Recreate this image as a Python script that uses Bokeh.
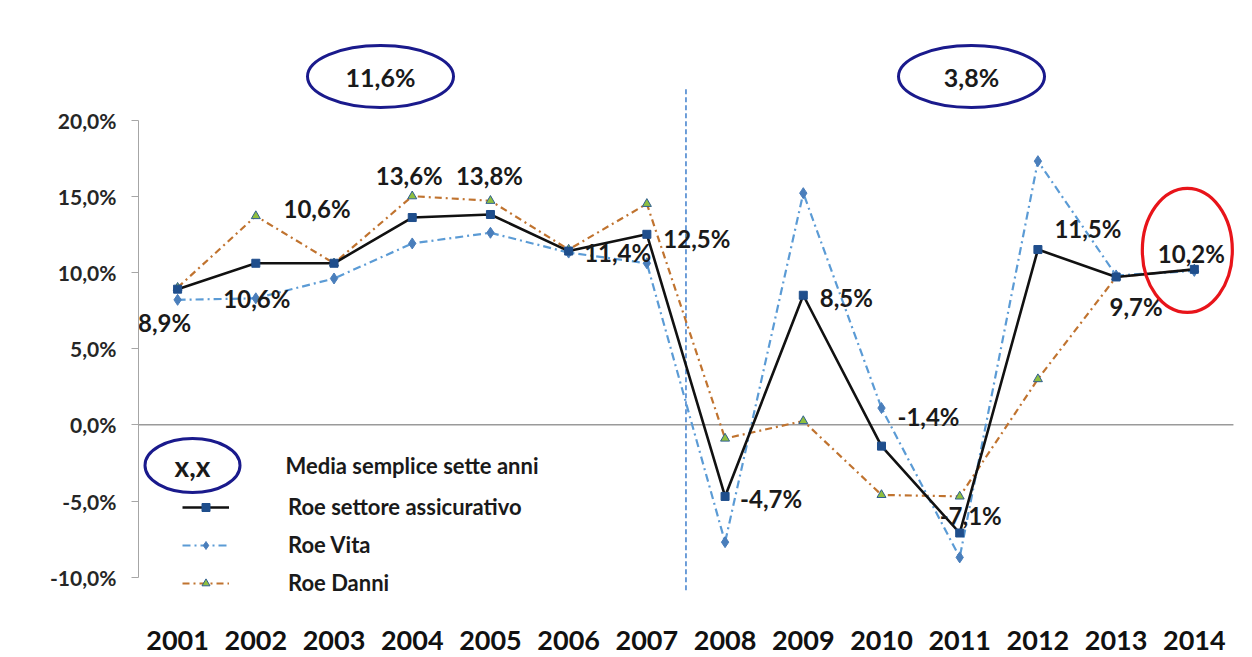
from bokeh.plotting import figure
from bokeh.models import Range1d, FixedTicker, Legend, LegendItem, ColumnDataSource
from bokeh.core.properties import value
from bokeh.embed import file_html
from bokeh.resources import INLINE

# ---------------- data ----------------
years = [2001, 2002, 2003, 2004, 2005, 2006, 2007, 2008, 2009, 2010, 2011, 2012, 2013, 2014]
roe_settore = [8.9, 10.6, 10.6, 13.6, 13.8, 11.4, 12.5, -4.7, 8.5, -1.4, -7.1, 11.5, 9.7, 10.2]
roe_vita = [8.2, 8.3, 9.6, 11.9, 12.6, 11.3, 10.6, -7.7, 15.2, 1.1, -8.7, 17.3, 9.8, 10.1]
roe_danni = [9.0, 13.7, 10.6, 15.0, 14.7, 11.5, 14.5, -0.9, 0.25, -4.6, -4.7, 3.0, 9.7, 10.2]
y_ticks = [-10, -5, 0, 5, 10, 15, 20]
legend_labels = ["Roe settore assicurativo", "Roe Vita", "Roe Danni"]
legend_avg_label = "Media semplice sette anni"

# label offsets from each point (screen px, +y = down)
lab_dx = [-13, 1, -17, -3, -1, 49, 50, 46, 43, 47, 11, 50, 20, -3]
lab_dy = [33, 35, -55, -42, -39, 1, 4, 2, 2, -30, -18, -21, 30, -16]

def pct(v):
    return f"{v:.1f}%".replace(".", ",")

# ---------------- scales (px per unit) ----------------
XS = 78.21      # px per year
YS = 15.24      # px per percentage point
FRAME_W, FRAME_H = 1114, 595
ZERO_PX = 424.3

x_start = years[0] - 0.5
x_end = x_start + FRAME_W / XS
y_top = ZERO_PX / YS
y_bot = -(FRAME_H - ZERO_PX) / YS

p = figure(width=1252, height=657,
           x_range=Range1d(x_start, x_end), y_range=Range1d(y_bot, y_top),
           output_backend="svg", toolbar_location=None,
           min_border_left=138, min_border_right=0, min_border_top=0,
           min_border_bottom=657 - FRAME_H)
p.xgrid.grid_line_color = None
p.ygrid.grid_line_color = None
p.outline_line_color = None
p.background_fill_color = "white"
p.border_fill_color = "white"

# y axis
ya = p.yaxis[0]
ya.ticker = FixedTicker(ticks=y_ticks)
ya.bounds = (y_ticks[0], y_ticks[-1])
ya.major_label_overrides = {t: pct(t) for t in y_ticks}
ya.axis_line_color = "#a6a6a6"
ya.major_tick_line_color = "#a6a6a6"
ya.major_tick_out = 7
ya.major_tick_in = 0
ya.minor_tick_line_color = None
ya.major_label_standoff = 15
ya.major_label_text_font = "Lato"
ya.major_label_text_font_style = "bold"
ya.major_label_text_font_size = "21px"
ya.major_label_text_color = "#262626"

# x axis
xa = p.xaxis[0]
xa.ticker = FixedTicker(ticks=years)
xa.major_label_overrides = {y: str(y) for y in years}
xa.axis_line_color = None
xa.major_tick_line_color = None
xa.minor_tick_line_color = None
xa.major_tick_out = 0
xa.major_tick_in = 0
xa.major_label_standoff = 35
xa.major_label_text_line_height = 0.8
xa.major_label_text_font = "Lato"
xa.major_label_text_font_style = "bold"
xa.major_label_text_font_size = "27px"
xa.major_label_text_color = "#111111"

# zero line
p.segment(x0=[years[0] - 0.5], x1=[years[-1] + 0.5], y0=[0], y1=[0],
          line_color="#9a9a9a", line_width=1.5)

# vertical divider between the two seven-year periods
mid = (years[6] + years[7]) / 2
p.segment(x0=[mid], x1=[mid], y0=[-10.85], y1=[(ZERO_PX - 88) / YS],
          line_color="#4a86cf", line_width=1.6, line_dash="5 3")

src = ColumnDataSource(dict(x=years, s=roe_settore, v=roe_vita, d=roe_danni))

# Roe Danni
ld = p.line("x", "d", source=src, line_color="#c0732f", line_width=2.2, line_dash="7 4 2 4")
md = p.scatter("x", "d", source=src, marker="triangle", size=9,
               fill_color="#8fbf3f", line_color="#2f5f8f", line_width=1)
# Roe Vita
lv = p.line("x", "v", source=src, line_color="#5b9bd5", line_width=2.2, line_dash="8 4 2 4")
mv = p.scatter("x", "v", source=src, marker="diamond", size=11,
               fill_color="#4a7ebb", line_color="#4a7ebb")
# Roe settore
ls = p.line("x", "s", source=src, line_color="#111111", line_width=2.6)
ms = p.scatter("x", "s", source=src, marker="square", size=8,
               fill_color="#1f4e8c", line_color="#1f4e8c")

# data labels
lab_x = [yr + dxp / XS for yr, dxp in zip(years, lab_dx)]
lab_y = [v - dyp / YS for v, dyp in zip(roe_settore, lab_dy)]
p.text(x=lab_x, y=lab_y, text=[pct(v) for v in roe_settore],
       text_font=value("Lato"), text_font_style="bold", text_font_size="24px",
       text_color="#1a1a1a", text_align="center", text_baseline="middle")

# red highlight around the last value
p.ellipse(x=[lab_x[-1] - 4 / XS], y=[lab_y[-1] + 3 / YS], width=90, height=124,
          width_units="screen", height_units="screen",
          fill_alpha=0, line_color="#e8141a", line_width=3.2)

# seven-year averages
avg1 = sum(roe_settore[:7]) / 7
avg2 = sum(roe_settore[7:]) / 7
ell_x = [x_start + 242 / XS, x_start + 833 / XS]
ell_y = [(ZERO_PX - 76) / YS] * 2
p.ellipse(x=ell_x, y=ell_y, width=146, height=62, width_units="screen", height_units="screen",
          fill_alpha=0, line_color="#1a1a8c", line_width=3)
p.text(x=ell_x, y=ell_y, text=[pct(avg1), pct(avg2)],
       text_font=value("Lato"), text_font_style="bold", text_font_size="25px",
       text_color="#1a1a1a", text_align="center", text_baseline="middle")

# legend: "x,x" average marker
lx = x_start + 54 / XS
ly = (ZERO_PX - 465) / YS
p.ellipse(x=[lx], y=[ly], width=95, height=54, width_units="screen", height_units="screen",
          fill_alpha=0, line_color="#1a1a8c", line_width=3)
p.text(x=[lx], y=[ly], text=["x,x"], text_font=value("Lato"), text_font_style="bold",
       text_font_size="28px", text_color="#1a1a1a", text_align="center", text_baseline="middle")
p.text(x=[x_start + 147 / XS], y=[ly], text=[legend_avg_label], text_font=value("Lato"),
       text_font_style="bold", text_font_size="22px", text_color="#1a1a1a",
       text_align="left", text_baseline="middle")

legend = Legend(items=[LegendItem(label=legend_labels[0], renderers=[ls, ms]),
                       LegendItem(label=legend_labels[1], renderers=[lv, mv]),
                       LegendItem(label=legend_labels[2], renderers=[ld, md])],
                location=(44, -1), orientation="vertical",
                glyph_width=47, glyph_height=20, label_height=20, spacing=11,
                label_standoff=59, padding=0, margin=0,
                border_line_color=None, background_fill_alpha=0,
                label_text_font="Lato", label_text_font_style="bold",
                label_text_font_size="22px", label_text_color="#1a1a1a")
p.add_layout(legend, "center")

open("out.html", "w").write(file_html(p, INLINE))
